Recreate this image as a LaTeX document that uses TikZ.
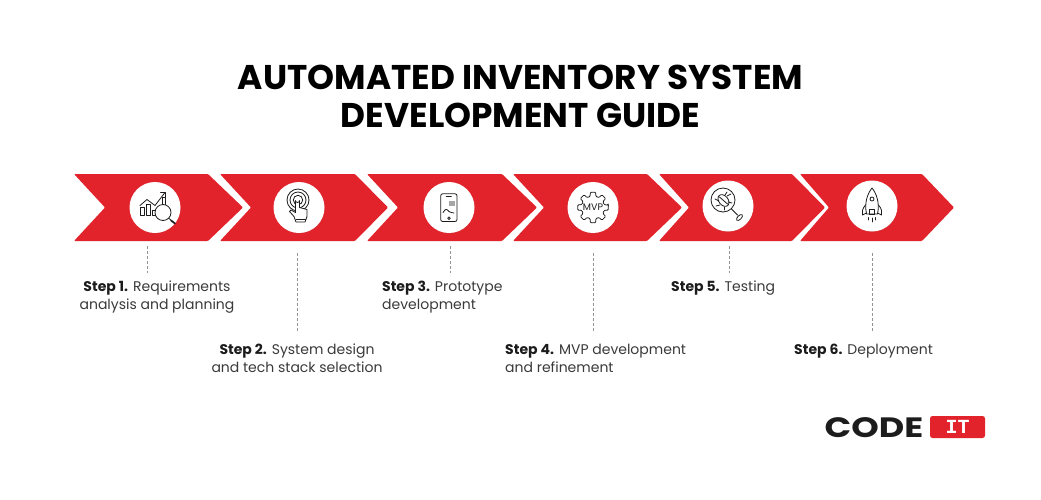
\documentclass[tikz,border=0pt]{standalone}
\usepackage{fontspec}
\setmainfont{Poppins}
\newfontfamily\logomono{Liberation Mono}
\usepackage{xcolor}
\usetikzlibrary{shadows}
\definecolor{codered}{HTML}{E2232B}
\definecolor{inkdark}{HTML}{1C1C1C}
\definecolor{inktext}{HTML}{3A3A3A}
\tikzset{
	chevron/.style={fill=codered, rounded corners=1pt},
	badge/.style={circle, fill=white, minimum size=51pt, inner sep=0pt,
		circular drop shadow={shadow xshift=0pt, shadow yshift=-0.7pt, shadow scale=1.02, opacity=0.18}},
	stepline/.style={draw=gray!85, line width=0.8pt, dash pattern=on 3pt off 2pt},
	steptext/.style={font=\fontsize{14}{18}\selectfont, text=inktext, inner sep=0pt},
	icon/.style={draw=inkdark, line width=0.8pt, line join=round, line cap=round},
}
\newcommand{\stepname}[1]{\textcolor{inkdark}{\textbf{#1}}}
\begin{document}
\begin{tikzpicture}[x=1pt, y=-1pt]
	\useasboundingbox[fill=white] (0,0) rectangle (1041,499);
	
	%% ── Title ───────────────────────────────────────────────────────
	\node[font=\fontsize{34.3}{38}\selectfont\bfseries, text=black, align=center, inner sep=0pt]
	(title) at (520.5,96) {AUTOMATED INVENTORY SYSTEM\\[0pt]DEVELOPMENT GUIDE};
	
	%% ── Chevrons ────────────────────────────────────────────────────
	\foreach \l/\n/\r/\t in {74/105/208/243, 220/251/355/388, 367/398/502/537,
		513/544/647/682, 659/689/792/825, 800/829/922/954}
	\fill[chevron] (\l,174) -- (\r,174) -- (\t,207.5) -- (\r,241) -- (\l,241) -- (\n,207.5) -- cycle;
	
	%% ── Round badges ────────────────────────────────────────────────
	\node[badge] (b1) at (155,207.5) {};
	\node[badge] (b2) at (299,207.5) {};
	\node[badge] (b3) at (449,207.5) {};
	\node[badge] (b4) at (593,207.5) {};
	\node[badge] (b5) at (728,206) {};
	\node[badge] (b6) at (872,206) {};
	
	%% ── Icon 1: chart and lens ──────────────────────────────────────
	\begin{scope}[shift={(b1.center)}]
		\draw[icon] (-14.5,0) rectangle (-11,8);
		\draw[icon] (-9,-3) rectangle (-5,8);
		\draw[icon] (-3,3) rectangle (0,8);
		\draw[icon] (7,-10) rectangle (10,-2);
		\draw[icon] (-15,-2) -- (-8,-8) -- (0,-2) -- (10,-15);
		\draw[icon] (5.5,-15) -- (10,-15) -- (10,-10.5);
		\draw[icon, fill=white] (8,5) circle (8);
		\draw[icon] (14,11) -- (19,15);
		\draw[icon, line width=1.6pt] (16,13) -- (20,16);
	\end{scope}
	
	%% ── Icon 2: touch ───────────────────────────────────────────────
	\begin{scope}[shift={(b2.center)}]
		\draw[icon] (-1,-7.5) circle (11);
		\draw[icon] (-1,-7.5) circle (8);
		\draw[icon] (-1,-7.5) circle (4.7);
		\draw[icon, fill=white] (-3,14.5) -- (-5,9) -- (-9.5,4) -- (-8,2.5) -- (-3.5,5)
		-- (-3.5,-7) arc[start angle=180, end angle=0, radius=2] -- (0.5,0)
		-- (8,2) -- (8,9) -- (6,14.5) -- cycle;
		\draw[icon] (-3,12) -- (6.5,12);
	\end{scope}
	
	%% ── Icon 3: phone ───────────────────────────────────────────────
	\begin{scope}[shift={(b3.center)}]
		\draw[icon, rounded corners=2pt] (-8.3,-13.7) rectangle (8,14);
		\draw[icon] (-2.7,-11.5) -- (2.3,-11.5);
		\fill[gray!70] (-0.3,-7) rectangle (5.7,-2);
		\draw[icon] (-6,5) .. controls (-3,0) and (-2,2) .. (0,4) .. controls (1,5) and (3,5) .. (5,5.5);
		\draw[icon] (0,10.7) circle (1.3);
	\end{scope}
	
	%% ── Icon 4: gear ────────────────────────────────────────────────
	\begin{scope}[shift={(b4.center)}]
		\draw[icon, rounded corners=1pt] (-9:15.5)
		\foreach \a in {0,45,...,315} {
			-- (\a-10:15.5) -- (\a+10:15.5) -- (\a+14:11.5) -- (\a+31:11.5)
		} -- cycle;
		\node[fill=white, inner sep=0.5pt, font=\fontsize{9.5}{10}\selectfont, text=inkdark] (mvp) at (0,0) {MVP};
	\end{scope}
	
	%% ── Icon 5: bug under lens ──────────────────────────────────────
	\begin{scope}[shift={(b5.center)}]
		\draw[icon] (-5,-6) circle (12);
		\draw[icon] (3.5,3) -- (9.5,9);
		\draw[icon, rotate around={45:(11.5,11.5)}] (11.5,11.5) ellipse (3.8 and 1.9);
		\draw[icon, rotate around={40:(-4.5,-5.5)}] (-4.5,-5.5) ellipse (4.6 and 6.6);
		\draw[icon] (-8.5,-9) -- (-0.5,-2);
		\draw[icon] (-3,-11) -- (-1,-14);
		\draw[icon] (-1,-10) -- (3,-12);
		\draw[icon] (-9,-5) -- (-13,-7);
		\draw[icon] (-8,-1) -- (-12,0);
		\draw[icon] (-4,1) -- (-4,4);
		\draw[icon] (0,-4) -- (4,-3);
	\end{scope}
	
	%% ── Icon 6: rocket ──────────────────────────────────────────────
	\begin{scope}[shift={(b6.center)}]
		\draw[icon] (-5.5,8) .. controls (-8,-4) and (-4,-13) .. (0,-18)
		.. controls (4,-13) and (8,-4) .. (5.5,8) -- cycle;
		\draw[icon] (0,-7) circle (2);
		\draw[icon] (-6.5,-1) .. controls (-10,3) and (-10,6) .. (-9.5,9) -- (-5.5,7);
		\draw[icon] (6.5,-1) .. controls (10,3) and (10,6) .. (9.5,9) -- (5.5,7);
		\draw[icon] (-2.5,3) rectangle (2.5,8);
		\draw[icon] (-3.5,11.5) -- (-3.5,14);
		\draw[icon] (0,12) -- (0,16);
		\draw[icon] (3.5,11.5) -- (3.5,14);
	\end{scope}
	
	%% ── Step labels ─────────────────────────────────────────────────
	\node[steptext, align=center] (s1) at (157,297.5) {\stepname{Step 1.} Requirements\\analysis and planning};
	\node[steptext, align=center] (s2) at (297,358.5) {\stepname{Step 2.} System design\\and tech stack selection};
	\node[steptext, align=left, anchor=west] (s3) at (382,297.5) {\stepname{Step 3.} Prototype\\development};
	\node[steptext, align=left, anchor=west] (s4) at (505,358.5) {\stepname{Step 4.} MVP development\\and refinement};
	\node[steptext, anchor=west] (s5) at (671,288.5) {\stepname{Step 5.} Testing};
	\node[steptext, anchor=west] (s6) at (794,351.5) {\stepname{Step 6.} Deployment};
	
	%% ── Dashed leaders ──────────────────────────────────────────────
	\foreach \k/\x/\ya/\yb in {1/147.5/246/273, 2/297/253/331, 3/450/246/273,
		4/593/253/331, 5/729/246/273, 6/872/253/331} {
		\coordinate (top\k) at (\x,\ya);
		\coordinate (bot\k) at (\x,\yb);
		\draw[stepline] (top\k) -- (bot\k);
	}
	
	%% ── Logo ────────────────────────────────────────────────────────
	\node[font=\fontsize{28}{28}\selectfont\bfseries, text=inkdark, inner sep=0pt, xscale=1.25] (code) at (874,427.5) {CODE};
	\node[fill=codered, rounded corners=2.5pt, minimum width=55pt, minimum height=22pt, inner sep=0pt,
	font=\logomono\fontsize{20}{20}\selectfont\bfseries, text=white] (it) at (957.5,427) {IT};
\end{tikzpicture}
\end{document}
